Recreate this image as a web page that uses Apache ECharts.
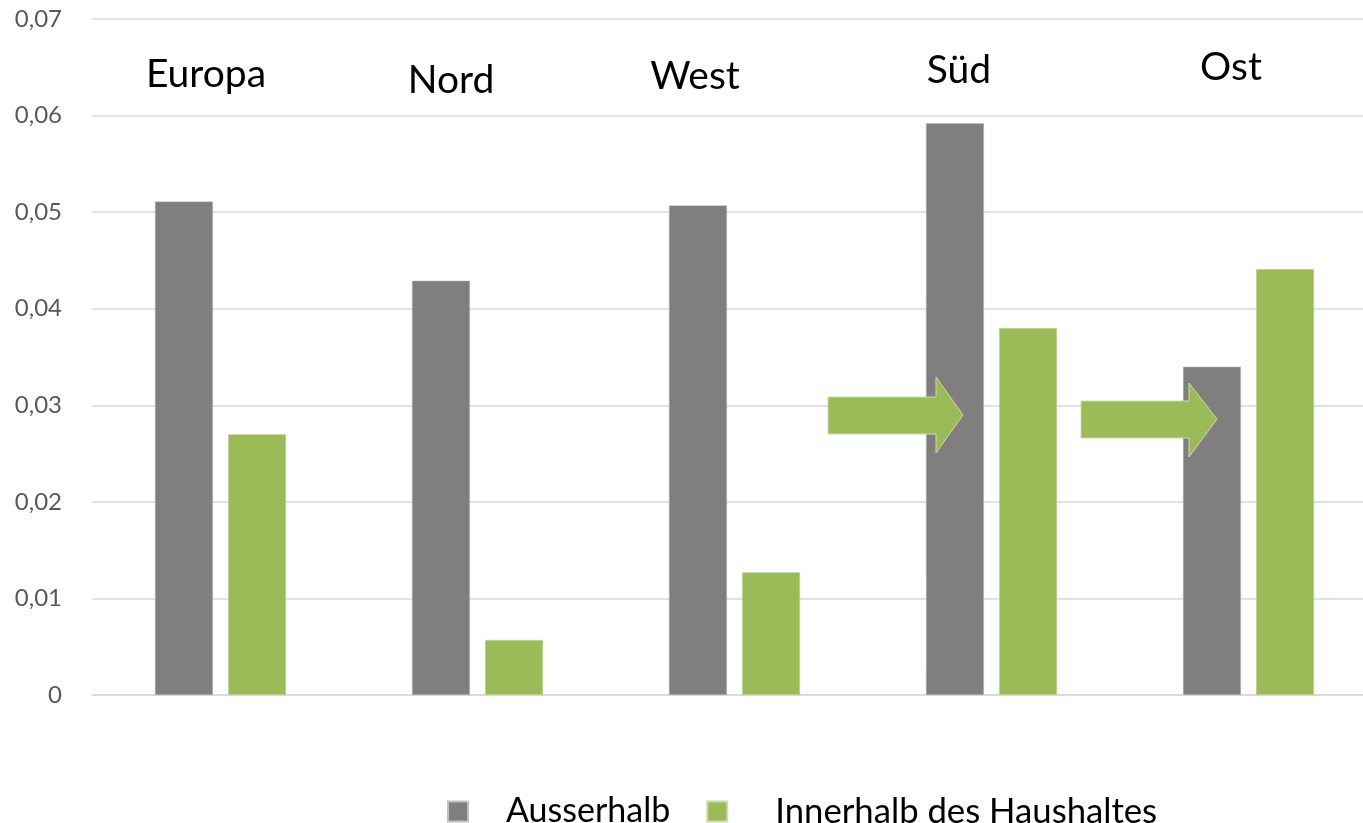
<!DOCTYPE html>
<html>
<head>
<meta charset="utf-8">
<script src="https://cdn.jsdelivr.net/npm/echarts@6/dist/echarts.min.js"></script>
<style>
html,body{margin:0;padding:0;background:#fff;overflow:hidden;}
#chart{width:1377px;height:823px;}
</style>
</head>
<body>
<div id="chart"></div>
<script>
const categories = ['Europa', 'Nord', 'West', 'Süd', 'Ost'];
const seriesNames = ['Ausserhalb', 'Innerhalb des Haushaltes'];
const ausserhalb = [0.0511, 0.0429, 0.0507, 0.0592, 0.0340];
const innerhalb = [0.0270, 0.0057, 0.0127, 0.0380, 0.0441];
const yTicks = { min: 0, max: 0.07, interval: 0.01 };

const FONT = 'Lato';
const GRAY = '#7f7f7f';
const GREEN = '#9bbb59';

const chart = echarts.init(document.getElementById('chart'), null, { renderer: 'canvas' });

function arrow(x0, yTop, yBot, xHead, hTop, hBot, xTip, yTip) {
  return {
    type: 'polygon',
    shape: { points: [[x0, yTop], [xHead, yTop], [xHead, hTop], [xTip, yTip], [xHead, hBot], [xHead, yBot], [x0, yBot]] },
    style: { fill: GREEN, stroke: '#c9dcaa', lineWidth: 1 },
    z: 100
  };
}
function label(text, cx, cy) {
  return {
    type: 'text',
    x: cx, y: cy,
    style: { text: text, font: '39px ' + FONT, fill: '#000', align: 'center', verticalAlign: 'middle' },
    z: 100
  };
}

chart.setOption({
  animation: false,
  backgroundColor: '#fff',
  grid: { left: 92, top: 19, right: 0, bottom: 128, containLabel: false },
  xAxis: {
    type: 'category',
    data: categories,
    axisLine: { show: true, lineStyle: { color: '#d9d9d9', width: 1.5 } },
    axisTick: { show: false },
    axisLabel: { show: false }
  },
  yAxis: {
    type: 'value',
    min: yTicks.min, max: yTicks.max, interval: yTicks.interval,
    axisLine: { show: false },
    axisTick: { show: false },
    splitLine: { lineStyle: { color: '#d9d9d9', width: 1.5 } },
    axisLabel: {
      margin: 30,
      color: '#595959',
      fontFamily: FONT,
      fontSize: 24,
      formatter: v => v === 0 ? '0' : v.toFixed(2).replace('.', ',')
    }
  },
  legend: {
    left: 442, top: 789,
    itemWidth: 20, itemHeight: 20, itemGap: 36,
    icon: 'rect',
    textStyle: { fontFamily: FONT, fontSize: 34, color: '#000', padding: [0, 0, 0, 33] },
    data: [
      { name: seriesNames[0] },
      { name: seriesNames[1], textStyle: { fontSize: 34.7, padding: [0, 0, 0, 43] } }
    ]
  },
  series: [
    {
      name: seriesNames[0], type: 'bar', data: ausserhalb,
      barWidth: 58, barGap: '26%',
      itemStyle: { color: GRAY, borderColor: '#bfbfbf', borderWidth: 0.5 }
    },
    {
      name: seriesNames[1], type: 'bar', data: innerhalb,
      barWidth: 58, barGap: '26%',
      itemStyle: { color: GREEN, borderColor: '#c9dcaa', borderWidth: 0.5 }
    }
  ],
  graphic: [
    label(categories[0], 206, 74),
    label(categories[1], 451, 80),
    label(categories[2], 695, 76),
    label(categories[3], 959, 70),
    label(categories[4], 1231, 67),
    arrow(828, 397, 434, 936, 377, 453, 963, 415),
    arrow(1081, 401, 438, 1189, 383, 457, 1217, 419)
  ]
});
</script>
</body>
</html>
